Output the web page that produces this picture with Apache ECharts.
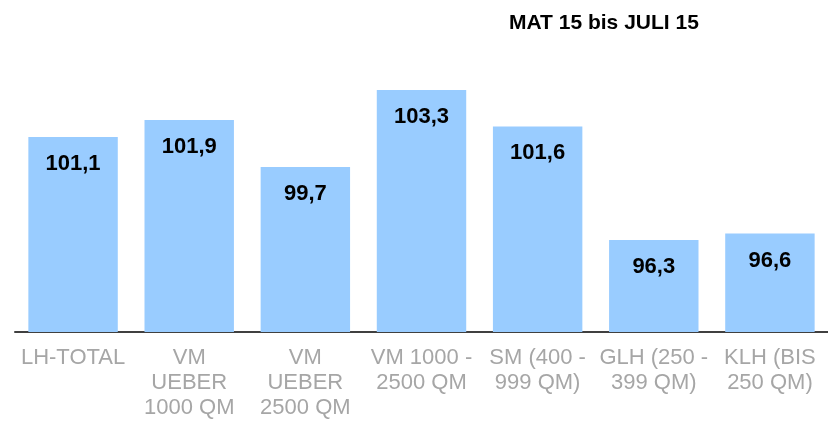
<!DOCTYPE html>
<html>
<head>
<meta charset="utf-8">
<script src="https://cdn.jsdelivr.net/npm/echarts@6/dist/echarts.min.js"></script>
<style>
html,body{margin:0;padding:0;background:#fff;}
#main{width:828px;height:423px;}
</style>
</head>
<body>
<div id="main"></div>
<script>
// Kategorien und Werte
var categories = ['LH-TOTAL', 'VM\nUEBER\n1000 QM', 'VM\nUEBER\n2500 QM', 'VM 1000 -\n2500 QM', 'SM (400 -\n999 QM)', 'GLH (250 -\n399 QM)', 'KLH (BIS\n250 QM)'];
var values = [101.1, 101.9, 99.7, 103.3, 101.6, 96.3, 96.6];
var titleText = 'MAT 15 bis JULI 15';

var myChart = echarts.init(document.getElementById('main'));
var option = {
    animation: false,
    title: {
        text: titleText,
        left: 504,
        top: 8,
        textStyle: { fontFamily: 'Liberation Sans', fontSize: 21, fontWeight: 'bold', color: '#000' }
    },
    grid: { left: 15, right: 0, top: 75, bottom: 91, containLabel: false },
    xAxis: {
        type: 'category',
        data: categories,
        axisLine: { lineStyle: { color: '#404040', width: 2 } },
        axisTick: { show: false },
        axisLabel: {
            interval: 0,
            color: '#a6a6a6',
            fontFamily: 'Liberation Sans',
            fontSize: 22,
            lineHeight: 25,
            margin: 13
        }
    },
    yAxis: {
        type: 'value',
        min: 92,
        max: 104,
        show: false,
        splitLine: { show: false }
    },
    series: [{
        type: 'bar',
        data: values,
        barCategoryGap: '23%',
        itemStyle: { color: '#99ccff' },
        label: {
            show: true,
            position: 'insideTop',
            distance: 16,
            color: '#000',
            fontFamily: 'Liberation Sans',
            fontSize: 22,
            fontWeight: 'bold',
            formatter: function (p) { return p.value.toFixed(1).replace('.', ','); }
        }
    }]
};
myChart.setOption(option);
</script>
</body>
</html>
